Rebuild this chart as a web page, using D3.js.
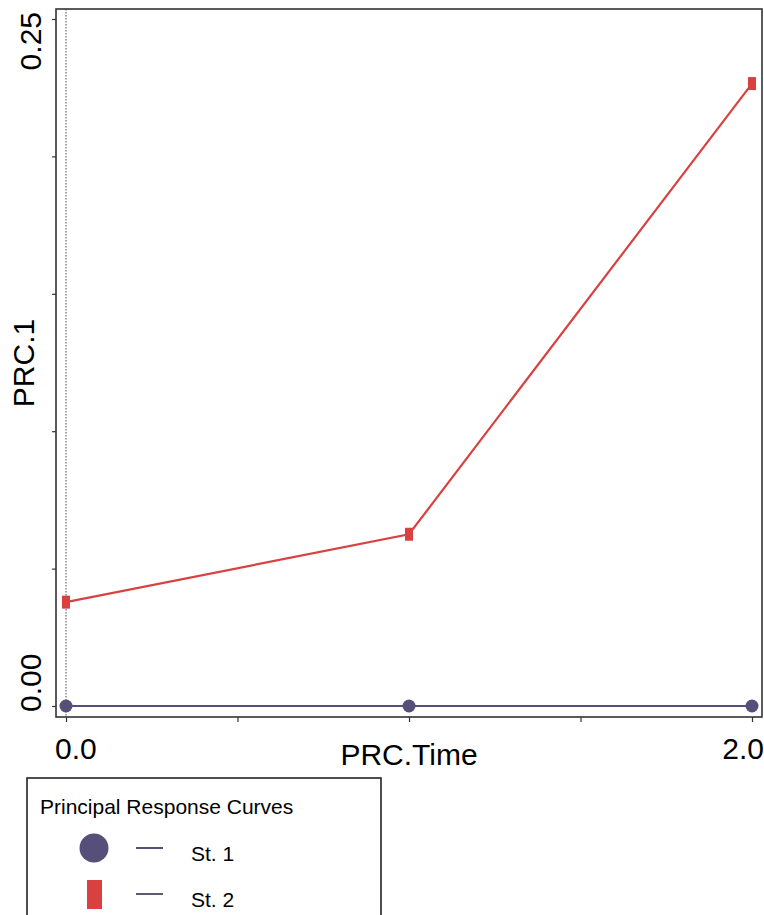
<!DOCTYPE html>
<html>
<head>
<meta charset="utf-8">
<script src="https://cdn.jsdelivr.net/npm/d3@7"></script>
<style>
  body { margin: 0; background: #fff; }
  text { font-family: "Liberation Sans", Arial, sans-serif; }
</style>
</head>
<body>
<div id="chart"></div>
<script>
// data
let times = [0, 1, 2];
let st1 = [0, 0, 0];
let st2 = [0.0378, 0.0625, 0.2265];
let xTicks = [0, 0.5, 1, 1.5, 2];
let yTicks = [0, 0.05, 0.1, 0.15, 0.2, 0.25];
let seriesNames = ["St. 1", "St. 2"];

let width = 764, height = 915;
let purple = "#554f7a", red = "#d94141";

let svg = d3.select("#chart").append("svg")
    .attr("width", width)
    .attr("height", height);

let x = d3.scaleLinear().domain([0, 2]).range([66, 752]);
let y = d3.scaleLinear().domain([0, 0.25]).range([706, 19]);

// frame
svg.append("rect")
    .attr("x", 56).attr("y", 9)
    .attr("width", 762 - 56).attr("height", 717 - 9)
    .attr("fill", "none")
    .attr("stroke", "#333")
    .attr("stroke-width", 1.6);

// dotted line at time 0
svg.append("line")
    .attr("x1", x(0)).attr("x2", x(0))
    .attr("y1", 9).attr("y2", 717)
    .attr("stroke", "#222")
    .attr("stroke-width", 0.8)
    .attr("stroke-dasharray", "1.5,1.5");

// axes (ticks only)
let xAxis = svg.append("g")
    .attr("transform", "translate(0,717)")
    .call(d3.axisBottom(x).tickValues(xTicks).tickSize(5).tickFormat(""));
let yAxis = svg.append("g")
    .attr("transform", "translate(56,0)")
    .call(d3.axisLeft(y).tickValues(yTicks).tickSize(4).tickFormat(""));
[xAxis, yAxis].forEach(g => {
    g.select(".domain").remove();
    g.selectAll(".tick line").attr("stroke", "#333").attr("stroke-width", 1.2);
});

// tick labels
svg.append("text").attr("x", 55).attr("y", 759)
    .attr("font-size", 30).attr("text-anchor", "start").text("0.0");
svg.append("text").attr("x", 764).attr("y", 759)
    .attr("font-size", 30).attr("text-anchor", "end").text("2.0");
svg.append("text")
    .attr("transform", "translate(41,12) rotate(-90)")
    .attr("font-size", 30).attr("text-anchor", "end").text("0.25");
svg.append("text")
    .attr("transform", "translate(41,712) rotate(-90)")
    .attr("font-size", 30).attr("text-anchor", "start").text("0.00");

// axis titles
svg.append("text").attr("x", 409).attr("y", 765)
    .attr("font-size", 30).attr("text-anchor", "middle").text("PRC.Time");
svg.append("text")
    .attr("transform", "translate(34,363) rotate(-90)")
    .attr("font-size", 30).attr("text-anchor", "middle").text("PRC.1");

let line = d3.line()
    .x((d, i) => x(times[i]))
    .y(d => y(d));

// St. 1
svg.append("path")
    .datum(st1)
    .attr("d", line)
    .attr("fill", "none")
    .attr("stroke", purple)
    .attr("stroke-width", 2.2);
svg.selectAll(".pt1")
    .data(st1)
    .enter().append("circle")
    .attr("class", "pt1")
    .attr("cx", (d, i) => x(times[i]))
    .attr("cy", d => y(d))
    .attr("r", 6.5)
    .attr("fill", purple);

// St. 2
svg.append("path")
    .datum(st2)
    .attr("d", line)
    .attr("fill", "none")
    .attr("stroke", red)
    .attr("stroke-width", 2.2);
svg.selectAll(".pt2")
    .data(st2)
    .enter().append("rect")
    .attr("class", "pt2")
    .attr("x", (d, i) => x(times[i]) - 4)
    .attr("y", d => y(d) - 6.5)
    .attr("width", 8)
    .attr("height", 13)
    .attr("fill", red);

// legend
let legend = svg.append("g");
legend.append("rect")
    .attr("x", 27).attr("y", 778)
    .attr("width", 381 - 27).attr("height", 160)
    .attr("fill", "none")
    .attr("stroke", "#222")
    .attr("stroke-width", 1.6);
legend.append("text")
    .attr("x", 40).attr("y", 814)
    .attr("font-size", 21).text("Principal Response Curves");

let legendColors = [purple, red];
let legendLine = [purple, "#5a5a6e"];
seriesNames.forEach((name, i) => {
    let cy = 848 + i * 46;
    if (i === 0) {
        legend.append("circle").attr("cx", 94).attr("cy", cy).attr("r", 14.5)
            .attr("fill", legendColors[i]);
    } else {
        legend.append("rect").attr("x", 87).attr("y", cy - 14)
            .attr("width", 15).attr("height", 29)
            .attr("fill", legendColors[i]);
    }
    legend.append("line")
        .attr("x1", 136).attr("x2", 163)
        .attr("y1", cy).attr("y2", cy)
        .attr("stroke", legendLine[i])
        .attr("stroke-width", 2);
    legend.append("text")
        .attr("x", 191).attr("y", cy + 13)
        .attr("font-size", 21).text(name);
});
</script>
</body>
</html>
